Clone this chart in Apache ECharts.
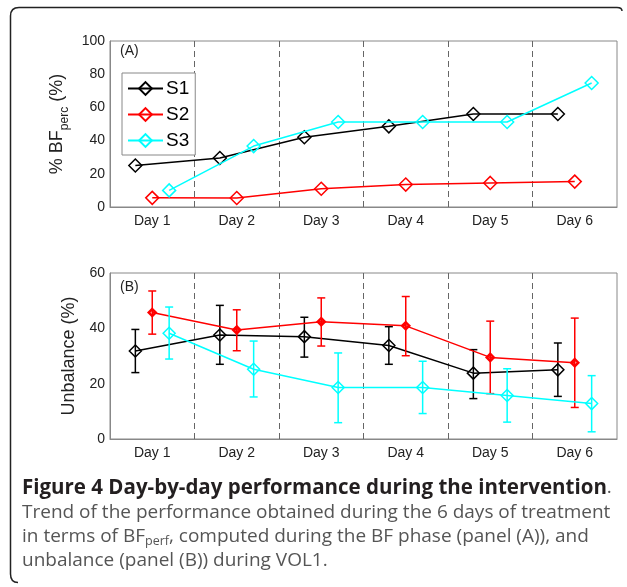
<!DOCTYPE html>
<html><head><meta charset="utf-8">
<script src="https://cdn.jsdelivr.net/npm/echarts@6/dist/echarts.min.js"></script>
<style>html,body{margin:0;padding:0;background:#fff}#c{width:627px;height:587px}</style>
</head><body><div id="c"></div>
<script>
// ---- data ----
const days = ['Day 1', 'Day 2', 'Day 3', 'Day 4', 'Day 5', 'Day 6'];
const seriesNames = ['S1', 'S2', 'S3'];
// Panel A: % BF_perc
const bfS1 = [25, 29.5, 42, 48.6, 56, 56];
const bfS2 = [5.5, 5.4, 11, 13.5, 14.5, 15.3];
const bfS3 = [10, 36.7, 51.2, 51.2, 51.2, 74.7];
// Panel B: unbalance mean, lower and upper error bar ends
const unbS1 = [31.8, 37.6, 37, 33.8, 23.8, 25];
const unbS1Lo = [24, 27, 29.6, 27, 14.6, 15.4];
const unbS1Hi = [39.6, 48.3, 44, 40.6, 32.3, 34.7];
const unbS2 = [45.7, 39.4, 42.4, 40.9, 29.5, 27.6];
const unbS2Lo = [37.9, 31.9, 33.6, 30.1, 16.4, 11.4];
const unbS2Hi = [53.5, 46.7, 51, 51.5, 42.6, 43.7];
const unbS3 = [38.2, 25.2, 18.6, 18.6, 15.7, 12.8];
const unbS3Lo = [28.9, 15.2, 5.9, 9.2, 6.1, 2.6];
const unbS3Hi = [47.7, 35.4, 31.1, 28.1, 25.4, 22.9];
const bfTicks = { min: 0, max: 100, step: 20 };
const unbTicks = { min: 0, max: 60, step: 20 };
// group offset of each subject within a day (in day units)
const dayOffsets = [-0.2, 0, 0.2];

// ---- styling ----
const colors = ['#000000', '#ff0000', '#00ffff'];
const FONT = '"Liberation Sans", Arial, Helvetica, sans-serif';
const CAP = '"Open Sans", "Noto Sans", sans-serif';

const chart = echarts.init(document.getElementById('c'), null, { renderer: 'canvas' });

function pts(vals, k) { return vals.map((v, i) => [i + 1 + dayOffsets[k], v]); }
function errPts(lo, hi, k) { return lo.map((v, i) => [i + 1 + dayOffsets[k], v, hi[i]]); }

function errRender(color) {
  return function (params, api) {
    const x = api.value(0);
    const a = api.coord([x, api.value(1)]);
    const b = api.coord([x, api.value(2)]);
    const w = 4;
    const st = { stroke: color, lineWidth: 1.5 };
    return {
      type: 'group', children: [
        { type: 'line', shape: { x1: a[0], y1: a[1], x2: b[0], y2: b[1] }, style: st },
        { type: 'line', shape: { x1: a[0] - w, y1: a[1], x2: a[0] + w, y2: a[1] }, style: st },
        { type: 'line', shape: { x1: b[0] - w, y1: b[1], x2: b[0] + w, y2: b[1] }, style: st }
      ]
    };
  };
}

const catAxis = (gi) => ({
  type: 'category', gridIndex: gi, data: days, boundaryGap: true, position: 'bottom',
  axisLine: { show: true, lineStyle: { color: '#888', width: 1 } },
  axisTick: { show: false },
  axisLabel: { color: '#222', fontSize: 14, fontFamily: FONT, margin: 7 },
  splitLine: { show: true, showMinLine: false, showMaxLine: false, lineStyle: { color: '#666', type: [6, 4], width: 1 } }
});
const valXAxis = (gi) => ({ type: 'value', gridIndex: gi, min: 0.5, max: 6.5, show: false });

const bfA = [bfS1, bfS2, bfS3];
const unbB = [unbS1, unbS2, unbS3];
const unbLo = [unbS1Lo, unbS2Lo, unbS3Lo];
const unbHi = [unbS1Hi, unbS2Hi, unbS3Hi];

const series = [];
seriesNames.forEach((n, k) => {
  series.push({
    name: n, type: 'line', xAxisIndex: 1, yAxisIndex: 0, data: pts(bfA[k], k),
    symbol: 'diamond', symbolSize: 13, showAllSymbol: true,
    lineStyle: { color: colors[k], width: 1.5 },
    itemStyle: { color: 'transparent', borderColor: colors[k], borderWidth: 1.5 },
    emphasis: { disabled: true }, z: 3 + k
  });
});
seriesNames.forEach((n, k) => {
  series.push({
    name: n + ' err', type: 'custom', xAxisIndex: 3, yAxisIndex: 1, data: errPts(unbLo[k], unbHi[k], k),
    renderItem: errRender(colors[k]), encode: { x: 0, y: [1, 2] }, z: 3 + k, silent: true
  });
  series.push({
    name: n + ' unb', type: 'line', xAxisIndex: 3, yAxisIndex: 1, data: pts(unbB[k], k),
    symbol: 'diamond', symbolSize: k === 1 ? 7 : 12, showAllSymbol: true,
    lineStyle: { color: colors[k], width: 1.5 },
    itemStyle: { color: 'transparent', borderColor: colors[k], borderWidth: k === 1 ? 2.5 : 1.5 },
    emphasis: { disabled: true }, z: 3 + k
  });
});

const frameStyle = { stroke: '#222', lineWidth: 1.5, fill: 'none' };
const option = {
  animation: false,
  backgroundColor: '#fff',
  grid: [
    { left: 110, right: 10, top: 41, height: 166, show: true, borderColor: '#888', borderWidth: 1, backgroundColor: 'transparent' },
    { left: 110, right: 10, top: 273, height: 166, show: true, borderColor: '#888', borderWidth: 1, backgroundColor: 'transparent' }
  ],
  xAxis: [catAxis(0), valXAxis(0), catAxis(1), valXAxis(1)],
  yAxis: [
    {
      type: 'value', gridIndex: 0, min: bfTicks.min, max: bfTicks.max, interval: bfTicks.step,
      axisLine: { show: true, lineStyle: { color: '#888' } }, axisTick: { show: false }, splitLine: { show: false },
      axisLabel: { color: '#222', fontSize: 14, fontFamily: FONT, margin: 5 },
      name: '{a|% BF}{b|perc}{a| (%)}', nameLocation: 'middle', nameGap: 39,
      nameTextStyle: {
        color: '#222', fontFamily: FONT,
        rich: {
          a: { fontSize: 18, lineHeight: 28, fontFamily: FONT, color: '#222' },
          b: { fontSize: 12, lineHeight: 12, verticalAlign: 'bottom', fontFamily: FONT, color: '#222' }
        }
      }
    },
    {
      type: 'value', gridIndex: 1, min: unbTicks.min, max: unbTicks.max, interval: unbTicks.step,
      axisLine: { show: true, lineStyle: { color: '#888' } }, axisTick: { show: false }, splitLine: { show: false },
      axisLabel: { color: '#222', fontSize: 14, fontFamily: FONT, margin: 5 },
      name: 'Unbalance (%)', nameLocation: 'middle', nameGap: 22,
      nameTextStyle: { color: '#222', fontSize: 18, fontFamily: FONT }
    }
  ],
  legend: {
    data: seriesNames, orient: 'vertical', left: 122, top: 73,
    itemWidth: 35, itemHeight: 16, itemGap: 7,
    padding: [6, 6, 5, 5],
    backgroundColor: '#fff', borderColor: '#888', borderWidth: 1,
    textStyle: { fontSize: 19, fontFamily: FONT, color: '#000', padding: [0, 0, 0, -2] },
    selectedMode: false
  },
  graphic: [
    { type: 'line', silent: true, shape: { x1: 19, y1: 7.5, x2: 617, y2: 7.5 }, style: frameStyle },
    { type: 'bezierCurve', silent: true, shape: { x1: 617, y1: 7.5, cpx1: 622, cpy1: 7.5, x2: 622, y2: 11 }, style: frameStyle },
    { type: 'bezierCurve', silent: true, shape: { x1: 19, y1: 7.5, cpx1: 10.5, cpy1: 7.5, x2: 10.5, y2: 16 }, style: frameStyle },
    { type: 'line', silent: true, shape: { x1: 10.5, y1: 16, x2: 10.5, y2: 574 }, style: frameStyle },
    { type: 'bezierCurve', silent: true, shape: { x1: 10.5, y1: 574, cpx1: 10.5, cpy1: 582.5, x2: 18, y2: 582.5 }, style: frameStyle },
    { type: 'text', left: 120, top: 44, style: { text: '(A)', font: '14px ' + FONT, fill: '#222' } },
    { type: 'text', left: 120, top: 280, style: { text: '(B)', font: '14px ' + FONT, fill: '#222' } },
    { type: 'text', x: 22, y: 488, style: {
        text: '{b|Figure 4 Day-by-day performance during the intervention}{n|.}',
        verticalAlign: 'middle',
        rich: {
          b: { fontFamily: CAP, fontWeight: 'bold', fontSize: 20.5, fill: '#231f20', lineHeight: 24 },
          n: { fontFamily: CAP, fontSize: 19, fill: '#555', lineHeight: 24 }
        } } },
    { type: 'text', x: 22, y: 513, style: {
        text: 'Trend of the performance obtained during the 6 days of treatment',
        font: '19px ' + CAP, fill: '#555', verticalAlign: 'middle' } },
    { type: 'text', x: 22, y: 537, style: {
        text: '{n|in terms of BF}{s|perf}{n|, computed during the BF phase (panel (A)), and}',
        verticalAlign: 'middle',
        rich: {
          n: { fontFamily: CAP, fontSize: 19, fill: '#555', lineHeight: 22 },
          s: { fontFamily: CAP, fontSize: 12.5, fill: '#555', lineHeight: 12, verticalAlign: 'bottom' }
        } } },
    { type: 'text', x: 22, y: 561, style: {
        text: 'unbalance (panel (B)) during VOL1.',
        font: '19px ' + CAP, fill: '#555', verticalAlign: 'middle' } }
  ],
  series: series
};
chart.setOption(option);
</script>
</body></html>
